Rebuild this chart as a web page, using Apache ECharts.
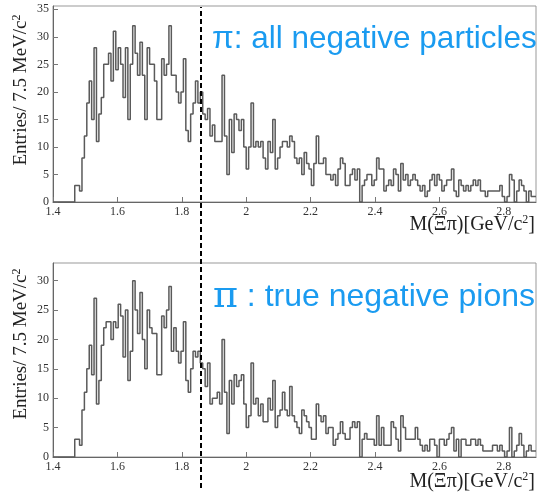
<!DOCTYPE html>
<html>
<head>
<meta charset="utf-8">
<script src="https://cdn.jsdelivr.net/npm/echarts@6/dist/echarts.min.js"></script>
<style>
  html, body { margin: 0; padding: 0; background: #fff; }
  #main { width: 540px; height: 498px; }
</style>
</head>
<body>
<div id="main"></div>
<script>
// M(Xi pi) histograms, 7.5 MeV bins from 1.4 to 2.9 GeV
var binLo = 1.4;
var binWidth = 0.0075;
var xMin = 1.4, xMax = 2.9;
var xiMass = 1.862;

// pi: all negative particles
var allNeg = [
  0,0,0,0,0,0,0,0,0,3,
  3,2,8,12,18,22,15,28,11,16,
  19,25,25,27,22,31,24,28,25,19,
  28,15,25,32,27,23,29,23,15,28,
  25,25,22,15,15,26,23,25,32,23,
  23,20,18,20,26,13,11,16,18,22,
  18,20,16,15,17,12,14,11,11,11,
  23,12,5,15,9,16,15,13,15,10,
  6,10,18,10,11,10,11,8,6,11,
  9,15,6,8,10,11,11,10,12,11,
  8,7,8,5,9,7,6,3,7,12,
  7,7,8,5,5,4,5,3,6,8,
  7,3,3,5,6,4,6,0,3,4,
  5,5,3,4,8,6,6,2,3,4,
  3,6,5,2,7,4,5,3,4,5,
  4,3,2,3,1,2,4,5,3,5,
  4,2,3,4,4,6,2,1,4,3,
  2,3,2,3,4,3,4,2,2,1,
  2,2,2,2,2,3,1,0,1,5,
  4,0,2,4,3,2,0,2,1,1
];

// pi: true negative pions
var truePi = [
  0,0,0,0,0,0,0,0,0,3,
  3,2,8,11,15,19,14,27,9,13,
  19,22,23,23,20,23,22,26,24,17,
  25,13,18,30,25,21,28,20,15,25,
  22,21,21,14,14,24,22,25,29,18,
  22,18,16,18,23,13,11,15,18,17,
  18,16,15,12,16,9,10,10,11,9,
  20,11,4,13,9,14,12,13,14,9,
  5,7,16,9,10,7,9,6,6,10,
  8,13,5,7,8,11,8,7,12,7,
  6,5,4,8,7,6,5,3,3,9,
  7,6,7,4,5,5,2,3,4,6,
  4,3,3,5,6,5,6,0,3,4,
  3,3,3,2,7,2,5,2,2,2,
  6,5,3,1,7,5,3,3,3,3,
  5,3,2,1,2,1,3,3,2,0,
  3,3,2,3,4,5,1,3,0,3,
  3,2,2,3,3,2,3,2,1,1,
  1,1,2,2,1,2,1,0,1,5,
  0,1,2,4,2,0,1,2,1,1
];

var yTitle = 'Entries/ 7.5 MeV/c{sup|2}';
var xTitle = 'M(\u039E\u03C0)[GeV/c{sup|2}]';
var topLabel = '\u03C0: all negative particles';
var bottomLabel = '{pi|\u03C0} : true negative pions';

// left bin edges -> step points
function steps(counts) {
  var pts = [];
  for (var i = 0; i < counts.length; i++) {
    pts.push([+(binLo + i * binWidth).toFixed(4), counts[i]]);
  }
  pts.push([+(binLo + counts.length * binWidth).toFixed(4), counts[counts.length - 1]]);
  return pts;
}

var serif = 'Liberation Serif';

function xAxisFor(idx) {
  return {
    type: 'value', gridIndex: idx, min: xMin, max: xMax, interval: 0.2,
    axisLine: { show: true, lineStyle: { color: '#666', width: 1 } },
    axisTick: { show: true, inside: true, length: 5, lineStyle: { color: '#777' } },
    axisLabel: { color: '#333', fontFamily: serif, fontSize: 12, margin: 4, showMaxLabel: false },
    splitLine: { show: false }
  };
}
function yAxisFor(idx, max) {
  return {
    type: 'value', gridIndex: idx, min: 0, max: max, interval: 5,
    axisLine: { show: true, lineStyle: { color: '#666', width: 1 } },
    axisTick: { show: true, inside: true, length: 5, lineStyle: { color: '#777' } },
    axisLabel: { color: '#333', fontFamily: serif, fontSize: 12, margin: 4, showMaxLabel: false },
    splitLine: { show: false }
  };
}

var histLine = { color: '#5a5a5a', width: 1.5 };
var supStyle = { fontSize: 12, fontFamily: serif, fill: '#222', verticalAlign: 'top', lineHeight: 14 };

var myChart = echarts.init(document.getElementById('main'));
var option;

option = {
  animation: false,
  backgroundColor: '#fff',
  grid: [
    { left: 53, top: 6, width: 483, height: 196, show: true, borderColor: '#999', borderWidth: 1, backgroundColor: 'transparent' },
    { left: 53, top: 263, width: 483, height: 194, show: true, borderColor: '#999', borderWidth: 1, backgroundColor: 'transparent' },
    { left: 53, top: 7, width: 483, height: 481 }
  ],
  xAxis: [
    xAxisFor(0),
    xAxisFor(1),
    { type: 'value', gridIndex: 2, min: xMin, max: xMax, show: false }
  ],
  yAxis: [
    yAxisFor(0, 35.6),
    yAxisFor(1, 33),
    { type: 'value', gridIndex: 2, min: 0, max: 1, show: false }
  ],
  series: [
    {
      type: 'line', xAxisIndex: 0, yAxisIndex: 0, step: 'end',
      data: steps(allNeg), showSymbol: false, lineStyle: histLine, silent: true
    },
    {
      type: 'line', xAxisIndex: 1, yAxisIndex: 1, step: 'end',
      data: steps(truePi), showSymbol: false, lineStyle: histLine, silent: true
    },
    {
      type: 'line', xAxisIndex: 2, yAxisIndex: 2,
      data: [[xiMass, 0]], showSymbol: false, lineStyle: { opacity: 0 }, silent: true,
      markLine: {
        silent: true, symbol: ['none', 'none'], label: { show: false },
        lineStyle: { color: '#000', type: [5, 3], width: 2 },
        data: [{ xAxis: xiMass }]
      }
    }
  ],
  graphic: [
    {
      type: 'text', x: 21, y: 90, rotation: Math.PI / 2,
      style: { text: yTitle, fontFamily: serif, fontSize: 19, fill: '#222', align: 'center', verticalAlign: 'middle', lineHeight: 20, rich: { sup: supStyle } }
    },
    {
      type: 'text', x: 21, y: 344, rotation: Math.PI / 2,
      style: { text: yTitle, fontFamily: serif, fontSize: 19, fill: '#222', align: 'center', verticalAlign: 'middle', lineHeight: 20, rich: { sup: supStyle } }
    },
    {
      type: 'text', x: 535, y: 225,
      style: { text: xTitle, fontFamily: serif, fontSize: 20, fill: '#222', align: 'right', verticalAlign: 'middle', lineHeight: 22, rich: { sup: supStyle } }
    },
    {
      type: 'text', x: 535, y: 482,
      style: { text: xTitle, fontFamily: serif, fontSize: 20, fill: '#222', align: 'right', verticalAlign: 'middle', lineHeight: 22, rich: { sup: supStyle } }
    },
    {
      type: 'text', x: 212, y: 39,
      style: { text: topLabel, fontFamily: 'Liberation Sans', fontSize: 31.5, fill: '#1a9bf0', align: 'left', verticalAlign: 'middle' }
    },
    {
      type: 'text', x: 213, y: 297,
      style: {
        text: bottomLabel, fontFamily: 'Liberation Sans', fontSize: 32, fill: '#1a9bf0', align: 'left', verticalAlign: 'middle',
        rich: { pi: { fontFamily: 'DejaVu Serif', fontSize: 38, fill: '#1a9bf0' } }
      }
    }
  ]
};

option && myChart.setOption(option);
window.onresize = myChart.resize;
</script>
</body>
</html>
